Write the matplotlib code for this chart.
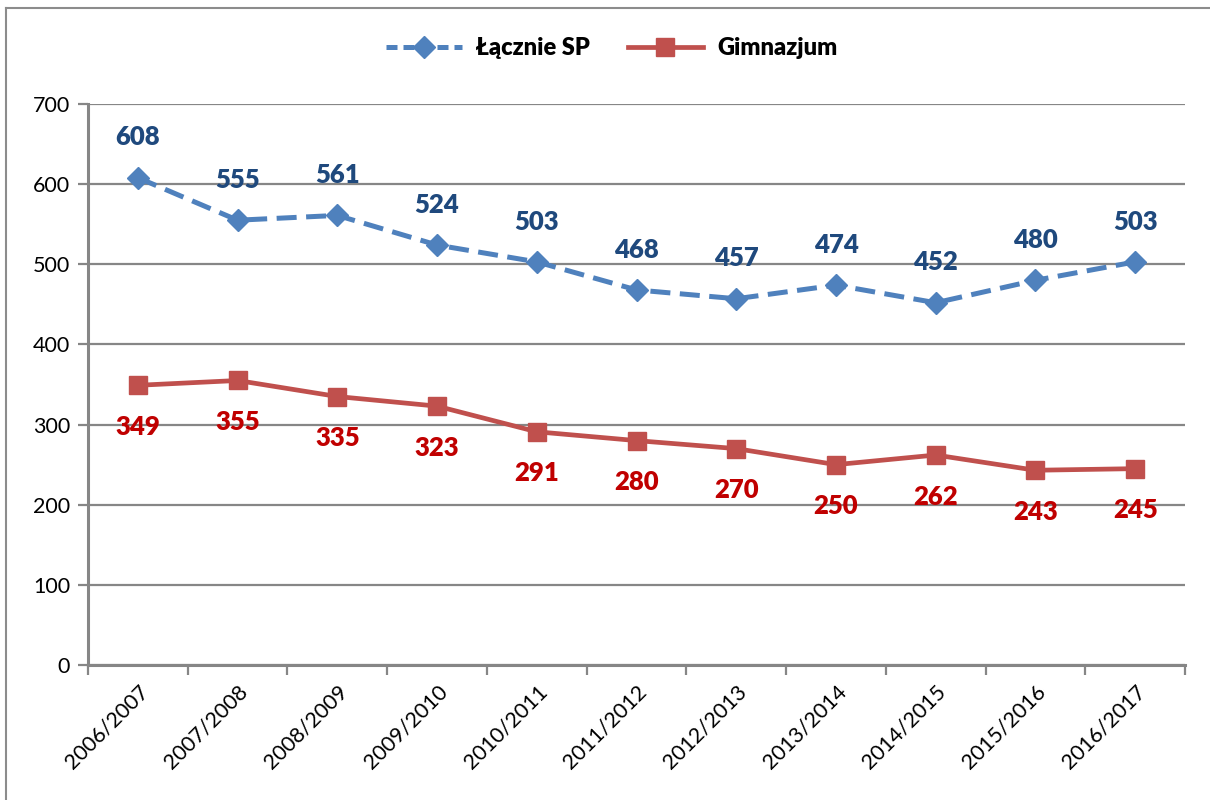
import matplotlib
matplotlib.use("Agg")
import matplotlib.pyplot as plt
from matplotlib.lines import Line2D

# category labels and series values
years = ["2006/2007", "2007/2008", "2008/2009", "2009/2010", "2010/2011",
         "2011/2012", "2012/2013", "2013/2014", "2014/2015", "2015/2016",
         "2016/2017"]
lacznie_sp = [608, 555, 561, 524, 503, 468, 457, 474, 452, 480, 503]
gimnazjum = [349, 355, 335, 323, 291, 280, 270, 250, 262, 243, 245]

plt.rcParams['font.family'] = ['Lato', 'DejaVu Sans']

blue = '#4F81BD'
red = '#C0504D'
grid_col = '#868686'

fig = plt.figure(figsize=(12.1, 8.0), dpi=100)
W, H = 1210, 800
ax = fig.add_axes([88 / W, 1 - 665 / H, (1185 - 88) / W, (665 - 104) / H])

x = list(range(len(years)))

ax.plot(x, lacznie_sp, color=blue, linestyle=(0, (4.0, 1.9)), linewidth=3.6,
        marker='D', markersize=11, markeredgecolor=blue, markerfacecolor=blue,
        zorder=4)
ax.plot(x, gimnazjum, color=red, linewidth=3.4, marker='s', markersize=13,
        markeredgecolor=red, markerfacecolor=red, zorder=4)

for xi, v in zip(x, lacznie_sp):
    ax.annotate(str(v), (xi, v), xytext=(0, 29), textcoords='offset points',
                ha='center', va='center', fontsize=18.5, fontweight='heavy',
                color='#1F497D', zorder=5)
for xi, v in zip(x, gimnazjum):
    ax.annotate(str(v), (xi, v), xytext=(0, -30), textcoords='offset points',
                ha='center', va='center', fontsize=18.5, fontweight='heavy',
                color='#C00000', zorder=5)

ax.set_xlim(-0.5, len(years) - 0.5)
ax.set_ylim(0, 700)
ax.set_yticks(range(0, 701, 100))
ax.yaxis.grid(True, color=grid_col, linewidth=1.6)
ax.set_axisbelow(True)

# category boundary ticks, labels at centres
ax.set_xticks([i - 0.5 for i in range(len(years) + 1)])
ax.set_xticklabels([])
ax.set_xticks(x, minor=True)
ax.set_xticklabels(years, minor=True, rotation=45, ha='right',
                   rotation_mode='anchor', fontsize=15.5)
ax.tick_params(axis='x', which='minor', length=0, pad=12)
ax.tick_params(axis='x', which='major', length=7, width=1.6, color=grid_col)
ax.tick_params(axis='y', length=7, width=1.6, color=grid_col, labelsize=15.5, pad=6)

for s in ['top', 'right']:
    ax.spines[s].set_visible(False)
for s in ['left', 'bottom']:
    ax.spines[s].set_color(grid_col)
    ax.spines[s].set_linewidth(2.2)

handles = [
    Line2D([], [], color=blue, linestyle=(0, (2.2, 1.2)), linewidth=3.6,
           marker='D', markersize=11),
    Line2D([], [], color=red, linewidth=3.4, marker='s', markersize=13),
]
fig.legend(handles, ["Łącznie SP", "Gimnazjum"], loc='center',
           bbox_to_anchor=(612 / W, 1 - 48 / H), ncol=2, frameon=False,
           prop={'size': 17, 'weight': 'heavy'}, handlelength=3.2,
           columnspacing=1.6, handletextpad=0.6)

# outer chart border (left and top visible)
fig.add_artist(Line2D([6 / W, 6 / W], [0, 1 - 8 / H], transform=fig.transFigure,
                      color='#8C8C8C', linewidth=1.5))
fig.add_artist(Line2D([6 / W, 1], [1 - 8 / H, 1 - 8 / H], transform=fig.transFigure,
                      color='#8C8C8C', linewidth=1.5))

fig.savefig('out.png', dpi=100)
